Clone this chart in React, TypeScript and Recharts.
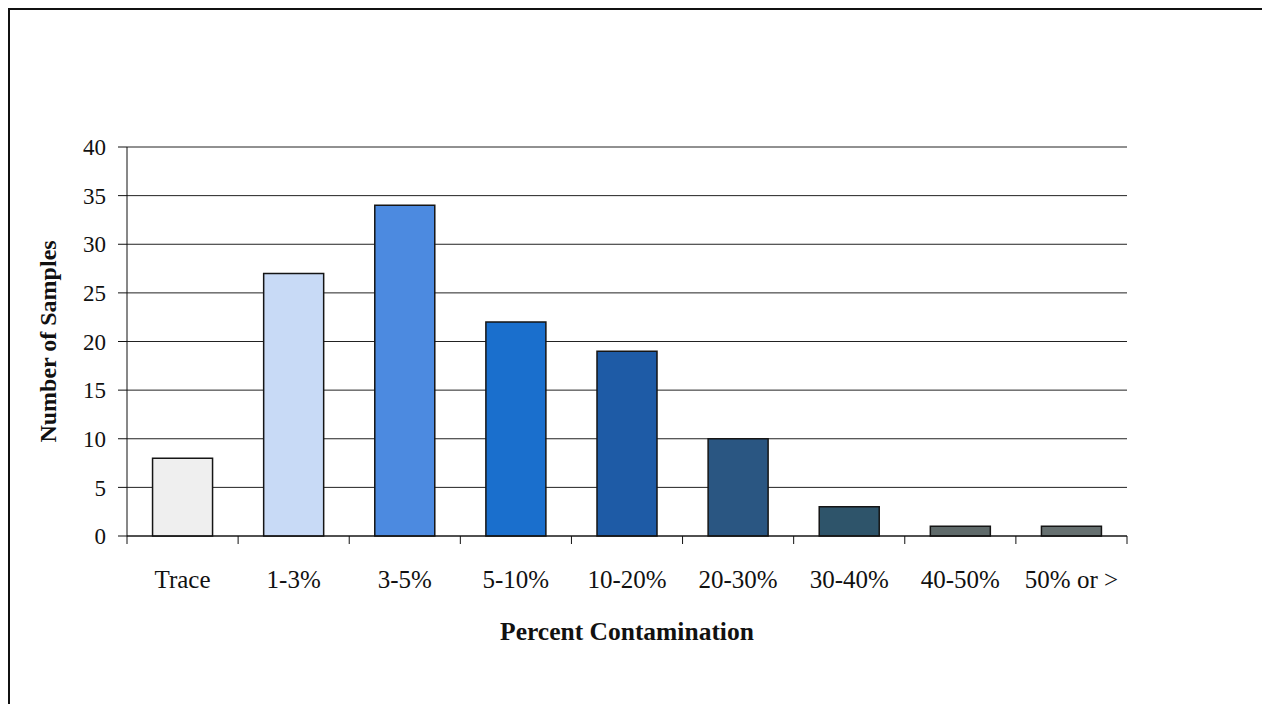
import { BarChart, Bar, Cell, XAxis, YAxis, CartesianGrid } from 'recharts';

const categories = ['Trace', '1-3%', '3-5%', '5-10%', '10-20%', '20-30%', '30-40%', '40-50%', '50% or >'];
const sampleCounts = [8, 27, 34, 22, 19, 10, 3, 1, 1];
const yTicks = [0, 5, 10, 15, 20, 25, 30, 35, 40];

const barColors = ['#efefef', '#c8daf6', '#4c8ae0', '#1a6fcd', '#1e5ba6', '#2a5682', '#2e546a', '#5f6a6a', '#667070'];

const FONT = 'Liberation Serif, Times New Roman, serif';

// plot geometry, used to put x ticks on category boundaries like Excel does
const PLOT_WIDTH = 1000;
const X_TICK_SIZE = 8;
const X_TICK_MARGIN = 26;

const YLabel = (props: any) => {
  const { viewBox } = props;
  const cx = viewBox.x - 9;
  const cy = viewBox.y + viewBox.height / 2;
  return (
    <text
      x={cx}
      y={cy}
      transform={`rotate(-90, ${cx}, ${cy})`}
      textAnchor="middle"
      dominantBaseline="central"
      style={{ fontFamily: FONT, fontWeight: 'bold', fontSize: 24 }}
      fill="#111"
    >
      Number of Samples
    </text>
  );
};

const XLabel = (props: any) => {
  const { viewBox } = props;
  return (
    <text
      x={viewBox.x + viewBox.width / 2}
      y={viewBox.y + 104}
      textAnchor="middle"
      style={{ fontFamily: FONT, fontWeight: 'bold', fontSize: 25.5 }}
      fill="#111"
    >
      Percent Contamination
    </text>
  );
};

const CategoryTick = (props: any) => {
  const { x, y, payload, index } = props;
  const half = PLOT_WIDTH / categories.length / 2;
  const axisY = y - X_TICK_SIZE - X_TICK_MARGIN;
  return (
    <g>
      <line x1={x - half} x2={x - half} y1={axisY} y2={axisY + X_TICK_SIZE} stroke="#111" />
      {index === categories.length - 1 && (
        <line x1={x + half} x2={x + half} y1={axisY} y2={axisY + X_TICK_SIZE} stroke="#111" />
      )}
      <text
        x={x}
        y={y}
        dy="0.71em"
        textAnchor="middle"
        style={{ fontFamily: FONT, fontSize: 25 }}
        fill="#111"
      >
        {payload.value}
      </text>
    </g>
  );
};

export default function App() {
  const data = categories.map((name, i) => ({ name, count: sampleCounts[i] }));

  return (
    <div
      style={{
        position: 'absolute',
        left: 8,
        top: 8,
        width: 1254,
        height: 696,
        borderLeft: '2px solid #111',
        borderTop: '2px solid #111',
        boxSizing: 'border-box',
        background: '#fff',
        fontFamily: FONT,
      }}
    >
      <BarChart
        width={1252}
        height={694}
        data={data}
        margin={{ top: 137, right: 135, bottom: 48, left: 47 }}
        barCategoryGap="23%"
      >
        <CartesianGrid vertical={false} stroke="#222" strokeWidth={1} />
        <XAxis
          dataKey="name"
          height={120}
          stroke="#111"
          tickLine={false}
          tickSize={X_TICK_SIZE}
          tickMargin={X_TICK_MARGIN}
          interval={0}
          tick={<CategoryTick />}
          label={<XLabel />}
        />
        <YAxis
          width={70}
          domain={[0, 40]}
          ticks={yTicks}
          stroke="#111"
          tickSize={9}
          tickMargin={12}
          tick={{ fill: '#111', fontFamily: FONT, fontSize: 23 }}
          label={<YLabel />}
        />
        <Bar dataKey="count" stroke="#151515" strokeWidth={1.5} isAnimationActive={false}>
          {data.map((d, i) => (
            <Cell key={d.name} fill={barColors[i]} />
          ))}
        </Bar>
      </BarChart>
    </div>
  );
}
